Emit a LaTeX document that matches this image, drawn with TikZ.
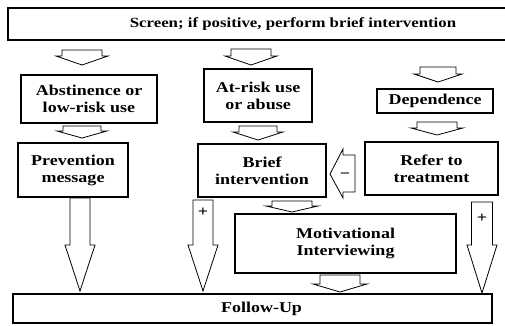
\documentclass[tikz,border=0pt]{standalone}
\usepackage{fontspec}
\setmainfont{Liberation Serif}[FakeStretch=1.2]
\newcommand{\dnarrow}[6]{%
  \draw[barrow] (#1-#4,#2) -- (#1+#4,#2) -- (#1+#4,#3) -- (#1+#5,#3) -- (#1,#6) -- (#1-#5,#3) -- (#1-#4,#3) -- cycle;}
\begin{document}
\begin{tikzpicture}[x=1pt,y=-1pt,
  box/.style={draw, line width=1.3pt, inner sep=0pt, align=center,
    font=\bfseries\fontsize{15}{17}\selectfont},
  barrow/.style={draw, line width=0.8pt, fill=white, line join=miter},
  sign/.style={font=\bfseries\fontsize{15}{15}\selectfont, inner sep=0pt}]
\useasboundingbox (0,0) rectangle (505,325);
\clip (0,0) rectangle (505,325);
% boxes
\node[box, minimum width=570pt, minimum height=32pt, font=\bfseries\fontsize{14}{16}\selectfont] (screen) at (293,24) {Screen; if positive, perform brief intervention};
\node[box, minimum width=136pt, minimum height=48pt] (abst) at (89,99) {Abstinence or\\low-risk use};
\node[box, minimum width=108pt, minimum height=53pt] (atrisk) at (258,95.5) {At-risk use\\or abuse};
\node[box, minimum width=116pt, minimum height=24pt] (dep) at (435,101) {Dependence};
\node[box, minimum width=110pt, minimum height=54pt] (prev) at (73,170) {Prevention\\message};
\node[box, minimum width=128pt, minimum height=53pt] (brief) at (262,170.5) {Brief\\intervention};
\node[box, minimum width=133pt, minimum height=53pt] (refer) at (431.5,168.5) {Refer to\\treatment};
\node[box, minimum width=221pt, minimum height=59pt] (mi) at (345.5,243.5) {Motivational\\Interviewing};
\node[box, minimum width=479pt, minimum height=29pt] (follow) at (252.5,308.5) {\hspace*{18pt}Follow-Up};
% small block arrows
\dnarrow{82}{50}{56}{20}{26}{65}
\dnarrow{251}{49}{56}{20}{26}{65}
\dnarrow{438}{67}{74}{18}{24}{82}
\dnarrow{82}{126}{131}{19}{25}{138}
\dnarrow{258}{126}{132}{19}{25}{140}
\dnarrow{437}{122}{128}{20}{26}{135}
\dnarrow{292}{201}{206}{20}{26}{212}
\dnarrow{340}{275}{284}{20}{27}{292}
% long block arrows
\dnarrow{80}{198}{245}{10}{15}{291}
\dnarrow{203}{200}{245}{10}{15}{291}
\dnarrow{482}{202}{245}{10.5}{15}{293}
\node[sign] (plusA) at (203,212) {+};
\node[sign] (plusB) at (482,218) {+};
% left arrow (refer -> brief)
\draw[barrow] (355,155) -- (343,155) -- (343,149) -- (330,174) -- (343,198) -- (343,192) -- (355,192) -- cycle;
\node[sign] (minus) at (345,176) {\textminus};
\end{tikzpicture}
\end{document}
